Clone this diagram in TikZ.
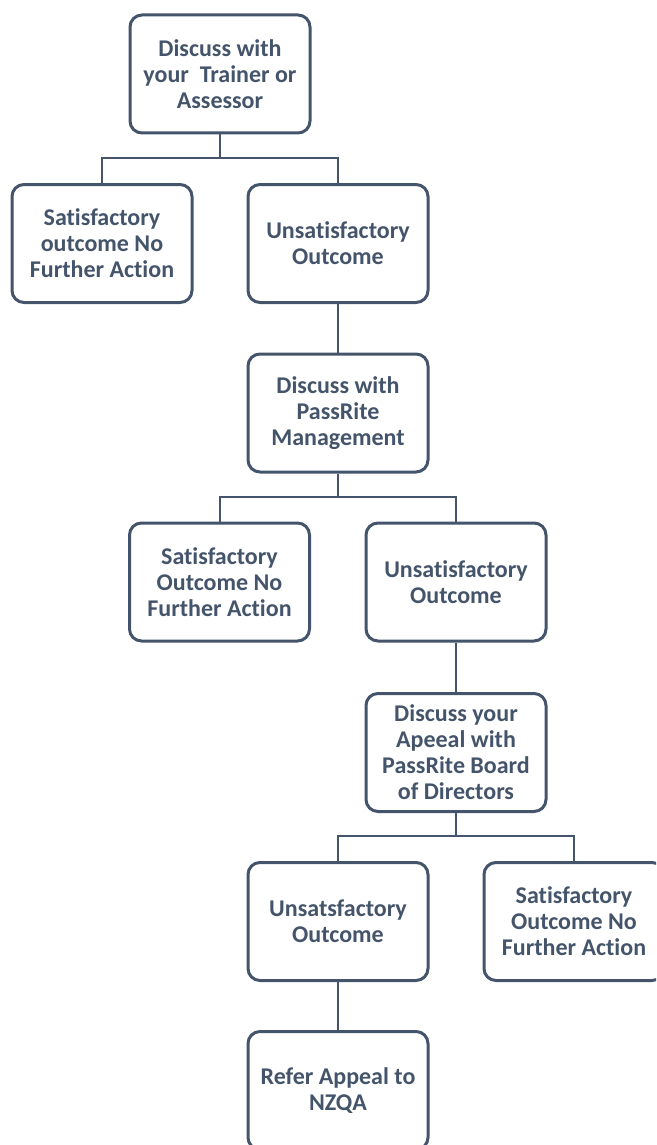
\documentclass[tikz,border=0pt]{standalone}
\usepackage{fontspec}
\setmainfont{Carlito}[Ligatures={NoCommon,NoRequired,NoContextual}]
\definecolor{slate}{HTML}{44546A}

\begin{document}
\begin{tikzpicture}[x=1pt,y=-1pt,
    box/.style={draw=slate,line width=3pt,rounded corners=12pt,minimum width=180pt,minimum height=118pt,
        align=center,text=slate,font=\fontsize{24}{26}\selectfont\bfseries,inner sep=2pt},
    link/.style={draw=slate,line width=2pt}]
    \clip (0,0) rectangle (656,1145);
    \node[box] (trainer) at (220,74) {Discuss with\\your \ Trainer or\\Assessor};
    \node[box] (sat1) at (102,243.5) {Satisfactory\\outcome No\\Further Action};
    \node[box] (unsat1) at (338,243.5) {Unsatisfactory\\Outcome};
    \node[box] (mgmt) at (338,413) {Discuss with\\PassRite\\Management};
    \node[box] (sat2) at (219.5,582) {Satisfactory\\Outcome No\\Further Action};
    \node[box] (unsat2) at (456,582) {Unsatisfactory\\Outcome};
    \node[box] (board) at (456,752.5) {Discuss your\\Apeeal with\\PassRite Board\\of Directors};
    \node[box] (unsat3) at (338,921.5) {Unsatsfactory\\Outcome};
    \node[box] (sat3) at (574,921.5) {Satisfactory\\Outcome No\\Further Action};
    \node[box] (nzqa) at (338,1090.5) {Refer Appeal to\\NZQA};
    \coordinate (j1) at (220,158);
    \coordinate (j2) at (338,497);
    \coordinate (j3) at (456,836);
    \draw[link] (trainer) -- (j1);
    \draw[link] (sat1.north) |- (j1) -| (unsat1.north);
    \draw[link] (unsat1) -- (mgmt);
    \draw[link] (mgmt) -- (j2);
    \draw[link] (sat2.north) |- (j2) -| (unsat2.north);
    \draw[link] (unsat2) -- (board);
    \draw[link] (board) -- (j3);
    \draw[link] (unsat3.north) |- (j3) -| (sat3.north);
    \draw[link] (unsat3) -- (nzqa);
\end{tikzpicture}
\end{document}
